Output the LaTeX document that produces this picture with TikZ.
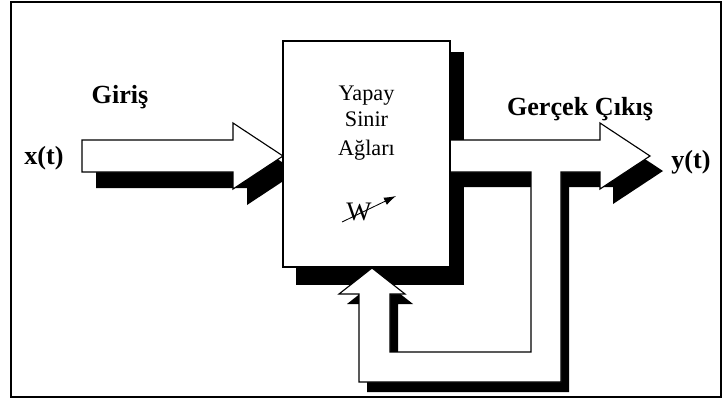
\documentclass[tikz,border=0pt]{standalone}
\usepackage{fontspec}
\setmainfont{Liberation Serif}
\usetikzlibrary{arrows.meta}
\begin{document}
\begin{tikzpicture}[x=0.025cm,y=-0.025cm,
  blackshadow/.style={fill=black,draw=none},
  pipe/.style={fill=white,draw=black,line width=0.8pt,line join=miter},
  lbl/.style={font=\fontsize{18.6pt}{20pt}\selectfont\bfseries,inner sep=0pt,anchor=base},
  boxtxt/.style={font=\fontsize{15.8pt}{19pt}\selectfont,inner sep=0pt,anchor=base}]
\useasboundingbox (0,0) rectangle (723,401);
% outer frame
\draw[line width=1.4pt] (11,2) rectangle (721,397);

% shadows
\fill[blackshadow] (296,52) rectangle (464,285);
\fill[blackshadow,shift={(14,16)}] (82,140) -- (233,140) -- (233,123) -- (283,156)
  -- (233,189) -- (233,172) -- (82,172) -- cycle;
\fill[blackshadow,shift={(13,15)}] (450,140) -- (600,140) -- (600,123) -- (650,156)
  -- (600,189) -- (600,172) -- (450,172) -- cycle;
\fill[blackshadow,shift={(8,10)}] (531,172) -- (561,172) -- (561,382) -- (359,382)
  -- (359,294) -- (339,294) -- (372,268) -- (405,294) -- (390,294) -- (390,352)
  -- (531,352) -- cycle;

% input arrow
\filldraw[pipe] (82,140) -- (233,140) -- (233,123) -- (283,156)
  -- (233,189) -- (233,172) -- (82,172) -- cycle;

% output arrow with the feedback pipe
\filldraw[pipe] (450,140) -- (600,140) -- (600,123) -- (650,156) -- (600,189)
  -- (600,172) -- (561,172) -- (561,382) -- (359,382) -- (359,294) -- (339,294)
  -- (372,268) -- (405,294) -- (390,294) -- (390,352) -- (531,352) -- (531,172)
  -- (450,172);

% network block
\node[draw,fill=white,line width=1.3pt,minimum width=4.175cm,minimum height=5.65cm,
  inner sep=0pt,outer sep=0pt] (ann) at (366.5,154) {};
\node[boxtxt] (l1) at (366.5,100) {Yapay};
\node[boxtxt] (l2) at (366.5,126.5) {Sinir};
\node[boxtxt] (l3) at (366.5,155) {Ağları};
\node[font=\fontsize{19pt}{20pt}\selectfont,inner sep=0pt,anchor=base] (w) at (359,220) {W};
\draw[line width=0.6pt,-{Latex[length=3mm,width=2mm]}] (342,222) -- (396,196);

% labels
\node[lbl] (giris) at (120,103) {Giriş};
\node[lbl] (xt) at (44,164) {x(t)};
\node[lbl] (cikis) at (580,115) {Gerçek Çıkış};
\node[lbl] (yt) at (691,168) {y(t)};
\end{tikzpicture}
\end{document}
